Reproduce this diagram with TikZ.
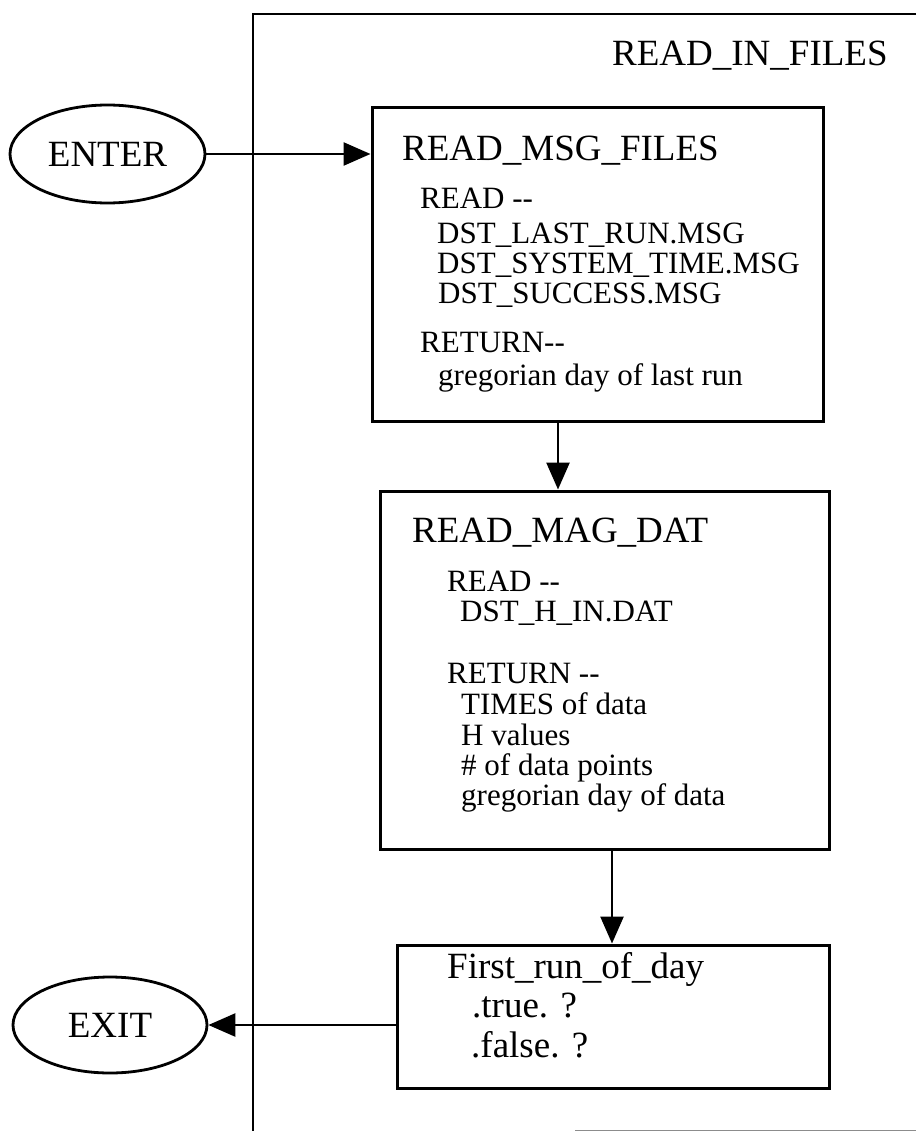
\documentclass[tikz,border=0pt]{standalone}
\usepackage{fontspec}
\setmainfont{Liberation Serif}
\usetikzlibrary{arrows.meta,shapes.geometric}
\begin{document}
\begin{tikzpicture}[x=1pt,y=-1pt,
  frameline/.style={line width=2.6pt},
  boxnode/.style={draw,line width=3pt,rectangle,inner sep=0pt},
  termnode/.style={draw,line width=2.8pt,ellipse,inner sep=0pt,font=\fontsize{37}{40}\selectfont},
  ttl/.style={anchor=base west,inner sep=0pt,font=\fontsize{37}{40}\selectfont},
  bdy/.style={anchor=base west,inner sep=0pt,font=\fontsize{31}{34}\selectfont},
  arr/.style={line width=2.6pt,-{Triangle[length=27pt,width=23pt]}}]
\useasboundingbox (0,0) rectangle (916,1132);
% outer frame
\draw[frameline] (916,14) -- (253,14) -- (253,1131);
\draw[line width=1.2pt,black!45] (575,1130.5) -- (916,1130.5);
\node[ttl] (title) at (612,65.5) {READ\_IN\_FILES};
% terminals
\node[termnode,minimum width=195pt,minimum height=98pt] (enter) at (107.5,154) {ENTER};
\node[termnode,minimum width=194pt,minimum height=96pt] (exit) at (110,1025) {EXIT};
% boxes
\node[boxnode,minimum width=451pt,minimum height=314pt] (msg) at (597.5,264) {};
\node[boxnode,minimum width=449pt,minimum height=358pt] (mag) at (604.5,670) {};
\node[boxnode,minimum width=432pt,minimum height=143pt] (first) at (613,1016.5) {};
% msg box text
\node[ttl] (msgt) at (402,160) {READ\_MSG\_FILES};
\node[bdy] (msg1) at (420,208.5) {READ -{}-};
\node[bdy] (msg2) at (437,243.5) {DST\_LAST\_RUN.MSG};
\node[bdy] (msg3) at (437,273.5) {DST\_SYSTEM\_TIME.MSG};
\node[bdy] (msg4) at (438,303.5) {DST\_SUCCESS.MSG};
\node[bdy] (msg5) at (420,352.5) {RETURN-{}-};
\node[bdy] (msg6) at (438,385) {gregorian day of last run};
% mag box text
\node[ttl] (magt) at (412,542.5) {READ\_MAG\_DAT};
\node[bdy] (mag1) at (447,591) {READ -{}-};
\node[bdy] (mag2) at (460,621.5) {DST\_H\_IN.DAT};
\node[bdy] (mag3) at (447,683) {RETURN -{}-};
\node[bdy] (mag4) at (461,714.5) {TIMES of data};
\node[bdy] (mag5) at (461,745) {H values};
\node[bdy] (mag6) at (461,775) {\# of data points};
\node[bdy] (mag7) at (461,805) {gregorian day of data};
% first box text
\node[ttl] (firstt) at (447,978) {First\_run\_of\_day};
\node[ttl] (first1) at (472,1017) {.true. ?};
\node[ttl] (first2) at (471,1057) {.false. ?};
% connectors
\draw[arr] (enter.east) -- (enter.east -| msg.west);
\draw[arr] ([xshift=-39.5pt]msg.south) -- ([xshift=-39.5pt]msg.south |- mag.north);
\draw[arr] ([xshift=7.5pt]mag.south) -- ([xshift=7.5pt]mag.south |- first.north);
\draw[arr] (first.west |- exit.east) -- (exit.east);
\end{tikzpicture}
\end{document}
